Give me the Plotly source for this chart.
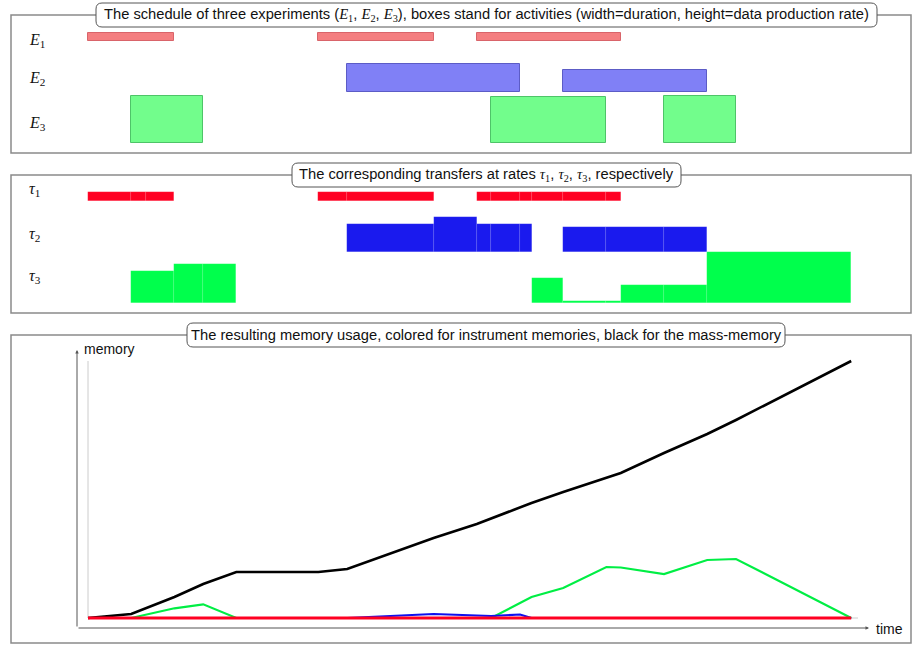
import plotly.graph_objects as go

W, H = 920, 647

# ---------------- data ----------------
# experiments: start, end (time units), data production rate
e1_start = [0, 16, 27]
e1_end = [6, 24, 37]
e1_rate = [0.8, 0.8, 0.8]

e2_start = [18, 33]
e2_end = [30, 43]
e2_rate = [2.8, 2.2]

e3_start = [3, 28, 40]
e3_end = [8, 36, 45]
e3_rate = [4.7, 4.6, 4.7]

# transfers: segments (start, end, rate)
t1_start = [0, 3, 4, 16, 18, 27, 28, 30, 30.8, 33, 36]
t1_end = [3, 4, 6, 18, 24, 28, 30, 30.8, 33, 36, 37]
t1_rate = [0.84] * 11

t2_start = [18, 24, 27, 28, 30, 33, 36, 40]
t2_end = [24, 27, 28, 30, 30.8, 36, 40, 43]
t2_rate = [2.75, 3.5, 2.75, 2.75, 2.75, 2.47, 2.47, 2.47]

t3_start = [3, 6, 8, 30.8, 33, 36, 37, 40, 43]
t3_end = [6, 8, 10.3, 33, 36, 37, 40, 43, 53]
t3_rate = [3.2, 3.9, 3.9, 2.5, 0.2, 0.2, 1.8, 1.8, 5.1]

# memory usage over time
mem_t = [0, 3, 6, 8, 10.3, 16, 18, 24, 27, 28, 30, 30.8, 33, 36, 37, 40, 43, 45, 53]
mem_mass = [0, 0.4, 2.1, 3.4, 4.6, 4.6, 4.9, 8.0, 9.4, 9.95, 11.1, 11.5, 12.6, 14.05, 14.5, 16.5, 18.4, 19.8, 25.7]
mem_e3 = [0, 0, 0.97, 1.37, 0, 0, 0, 0, 0, 0, 1.5, 2.1, 3.0, 5.1, 5.05, 4.4, 5.8, 5.9, 0]
mem_e2 = [0, 0, 0, 0, 0, 0, 0, 0.4, 0.22, 0.2, 0.35, 0, 0, 0, 0, 0, 0, 0, 0]
mem_e1 = [0] * 19

# ---------------- helpers ----------------
def px(x):
    return x / W

def py(y):
    return 1 - y / H

SCALE = 14.4          # pixels per time unit
X0 = 88               # pixel of t = 0
xrange = [-X0 / SCALE, (W - X0) / SCALE]

fig = go.Figure()

def add_bars(starts, ends, rates, base, fill, line, lw, xa, ya):
    fig.add_trace(go.Bar(
        x=starts, y=rates, base=[base] * len(starts),
        width=[e - s for s, e in zip(starts, ends)], offset=0,
        marker=dict(color=fill, line=dict(color=line, width=lw)),
        xaxis=xa, yaxis=ya, showlegend=False, hoverinfo="skip"))

# panel 1: experiments
add_bars(e1_start, e1_end, e1_rate, 11.23, "#f47e80", "#d9646a", 1, "x", "y")
add_bars(e2_start, e2_end, e2_rate, 6.1, "#8080f6", "#5c5cc6", 1, "x", "y")
add_bars(e3_start, e3_end, e3_rate, 1.0, "#72fd8c", "#4ec468", 1, "x", "y")

# panel 2: transfers
seg_line = "rgba(255,255,255,0.15)"
add_bars(t1_start, t1_end, t1_rate, 11.23, "#ff0022", seg_line, 0.5, "x2", "y2")
add_bars(t2_start, t2_end, t2_rate, 6.13, "#1a1aee", seg_line, 0.5, "x2", "y2")
add_bars(t3_start, t3_end, t3_rate, 0.97, "#00ff4c", seg_line, 0.5, "x2", "y2")

# panel 3: memory
for ys, col, w in [(mem_mass, "#000000", 2.6), (mem_e3, "#00ee44", 2.2),
                   (mem_e2, "#1010ee", 2.2), (mem_e1, "#ff0022", 3)]:
    fig.add_trace(go.Scatter(x=mem_t, y=ys, mode="lines",
                             line=dict(color=col, width=w),
                             xaxis="x3", yaxis="y3", showlegend=False,
                             hoverinfo="skip"))

ax_common = dict(range=xrange, visible=False, fixedrange=True)
fig.update_layout(
    width=W, height=H, margin=dict(l=0, r=0, t=0, b=0),
    paper_bgcolor="white", plot_bgcolor="rgba(0,0,0,0)",
    barmode="overlay", bargap=0,
    xaxis=dict(domain=[0, 1], anchor="y", **ax_common),
    xaxis2=dict(domain=[0, 1], anchor="y2", **ax_common),
    xaxis3=dict(domain=[0, 1], anchor="y3", **ax_common),
    yaxis=dict(domain=[py(153), py(15)], range=[0, 13.8], visible=False),
    yaxis2=dict(domain=[py(313), py(175)], range=[0, 13.8], visible=False),
    yaxis3=dict(domain=[py(643), py(335)], range=[-2.5, 28.3], visible=False),
)

shapes = []
# frames
for top, bot in [(15, 153), (175, 313), (335, 643)]:
    shapes.append(dict(type="rect", xref="paper", yref="paper",
                       x0=px(11), x1=px(911), y0=py(bot), y1=py(top),
                       line=dict(color="#8a8a8a", width=1.5), layer="below"))

def rounded(x0, x1, y0, y1, r=6):
    X0p, X1p = px(x0), px(x1)
    T, B = py(y0), py(y1)
    rx, ry = r / W, r / H
    return (f"M {X0p+rx},{T} L {X1p-rx},{T} Q {X1p},{T} {X1p},{T-ry} "
            f"L {X1p},{B+ry} Q {X1p},{B} {X1p-rx},{B} L {X0p+rx},{B} "
            f"Q {X0p},{B} {X0p},{B+ry} L {X0p},{T-ry} Q {X0p},{T} {X0p+rx},{T} Z")

for x0, x1, y0, y1 in [(96, 877, 3, 27), (292, 681, 163, 187), (187, 785, 323, 347)]:
    shapes.append(dict(type="path", xref="paper", yref="paper",
                       path=rounded(x0, x1, y0, y1), fillcolor="white",
                       line=dict(color="#555555", width=1)))

# inner light axis lines of memory plot
shapes.append(dict(type="line", xref="paper", yref="paper",
                   x0=px(88), x1=px(88), y0=py(618), y1=py(361),
                   line=dict(color="#cccccc", width=1), layer="below"))
shapes.append(dict(type="line", xref="paper", yref="paper",
                   x0=px(88), x1=px(858), y0=py(618), y1=py(618),
                   line=dict(color="#cccccc", width=1), layer="below"))
fig.update_layout(shapes=shapes)

SANS = "Liberation Sans, Arial, sans-serif"

def msub(s, k):
    return f'<span style="font-family:Liberation Serif"><i>{s}</i><sub>{k}</sub></span>'

titles = [
    (15, "The schedule of three experiments (" + msub("E", 1) + ", " + msub("E", 2) + ", "
     + msub("E", 3) + "), boxes stand for activities (width=duration, height=data production rate)"),
    (175, "The corresponding transfers at rates " + msub("τ", 1) + ", " + msub("τ", 2) + ", "
     + msub("τ", 3) + ", respectively"),
    (335, "The resulting memory usage, colored for instrument memories, black for the mass-memory"),
]
annotations = []
for yy, txt in titles:
    annotations.append(dict(x=px(486.5), y=py(yy), xref="paper", yref="paper",
                            text=txt, showarrow=False, xanchor="center", yanchor="middle",
                            font=dict(family=SANS, size=14.7, color="#111")))

row_labels = [("E", 1, 41), ("E", 2, 79), ("E", 3, 124),
              ("τ", 1, 189), ("τ", 2, 235), ("τ", 3, 276)]
for s, k, yy in row_labels:
    annotations.append(dict(x=px(27), y=py(yy), xref="paper", yref="paper",
                            text=msub(s, k), showarrow=False, xanchor="left", yanchor="middle",
                            font=dict(family="Liberation Serif", size=16, color="#111")))

# axis arrows
annotations.append(dict(x=px(77), y=py(350), xref="paper", yref="paper", text="",
                        showarrow=True, ax=0, ay=278, arrowhead=2, arrowsize=0.7,
                        arrowwidth=1, arrowcolor="#555"))
annotations.append(dict(x=px(869), y=py(628), xref="paper", yref="paper", text="",
                        showarrow=True, ax=-792, ay=0, arrowhead=2, arrowsize=0.7,
                        arrowwidth=1, arrowcolor="#555"))
annotations.append(dict(x=px(82), y=py(349), xref="paper", yref="paper", text="memory",
                        showarrow=False, xanchor="left", yanchor="middle",
                        font=dict(family=SANS, size=14, color="#111")))
annotations.append(dict(x=px(874), y=py(629), xref="paper", yref="paper", text="time",
                        showarrow=False, xanchor="left", yanchor="middle",
                        font=dict(family=SANS, size=14, color="#111")))
fig.update_layout(annotations=annotations)

fig.write_html("out.html")
